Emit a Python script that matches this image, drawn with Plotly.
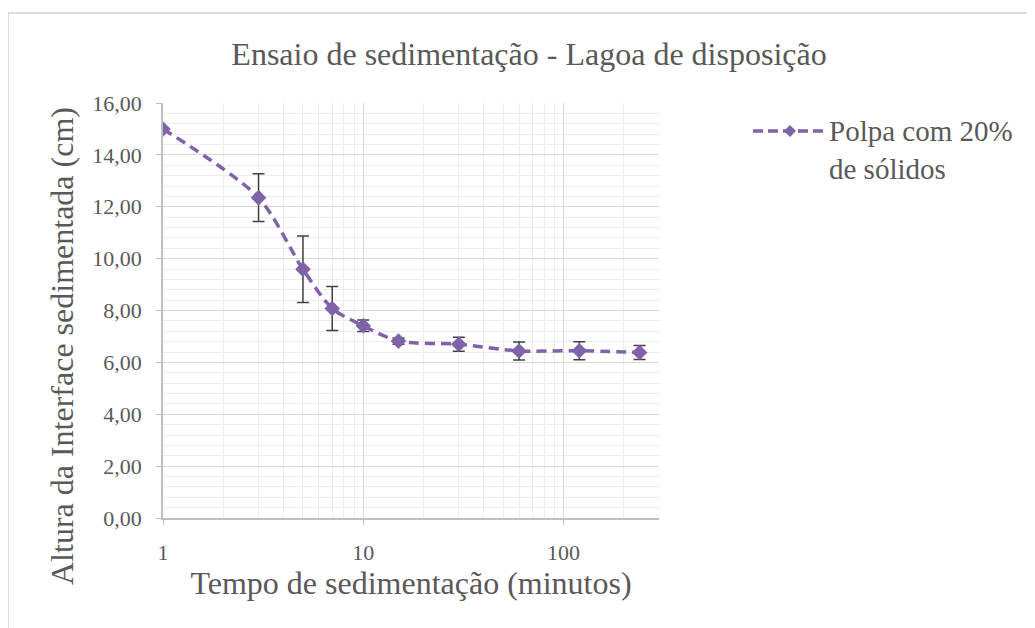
import plotly.graph_objects as go

# Data
tempo_min = [1, 3, 5, 7, 10, 15, 30, 60, 120, 240]
altura_cm = [15.00, 12.35, 9.59, 8.08, 7.41, 6.82, 6.70, 6.44, 6.45, 6.38]
erro_cm = [0.0, 0.92, 1.28, 0.85, 0.22, 0.12, 0.27, 0.35, 0.35, 0.27]
serie_linhas = ["Polpa com 20%", "de sólidos"]
titulo = "Ensaio de sedimentação - Lagoa de disposição"
titulo_x = "Tempo de sedimentação (minutos)"
titulo_y = "Altura da Interface sedimentada (cm)"
x_ticks = [1, 10, 100]
x_tick_labels = ["1", "10", "100"]
x_minor = [m * d for d in (1, 10, 100) for m in range(2, 10) if m * d <= 300]

FONT = "Liberation Serif"
PURPLE = "#7F62A8"
GREY = "#595959"

# plot area in page pixels (page has an 8px body margin)
PL, PR, PT, PB = 163, 659, 103, 518
W, H, OFF = 1035, 628, 8


def px(X):
    return (X - PL) / (PR - PL)


def py(Y):
    return (PB - Y) / (PB - PT)


fig = go.Figure()
fig.add_trace(go.Scatter(
    x=tempo_min, y=altura_cm, name=" ".join(serie_linhas), mode="lines+markers",
    showlegend=False,
    line=dict(color=PURPLE, width=3.5, dash="10px,6px", shape="spline", smoothing=0.8),
    marker=dict(symbol="diamond", size=12, color=PURPLE),
    error_y=dict(type="data", array=erro_cm, visible=True, color="#404040",
                 thickness=1.5, width=6),
))

fig.update_layout(
    width=W, height=H,
    margin=dict(l=PL - OFF, r=W + OFF - PR, t=PT - OFF, b=H + OFF - PB, autoexpand=False),
    paper_bgcolor="white", plot_bgcolor="white",
    separators=",.",
    font=dict(family=FONT, color=GREY),
    title=dict(text=titulo,
               x=(529 - OFF) / W, xref="container", xanchor="center",
               y=1 - (54 - OFF) / H, yref="container", yanchor="middle",
               font=dict(family=FONT, size=32, color=GREY)),
    xaxis=dict(
        type="log", range=[0, 2.4771], tickvals=x_ticks, ticktext=x_tick_labels,
        showgrid=True, gridcolor="#D9D9D9", gridwidth=1,
        showline=True, linecolor="#BFBFBF", linewidth=1.5,
        ticks="outside", ticklen=5, tickcolor="#BFBFBF", ticklabelstandoff=9,
        tickfont=dict(family=FONT, size=22, color=GREY),
        minor=dict(tickvals=x_minor, showgrid=True, gridcolor="#EDEDED", gridwidth=1),
        title=dict(text=titulo_x, standoff=6,
                   font=dict(family=FONT, size=32, color=GREY)),
        zeroline=False,
    ),
    yaxis=dict(
        range=[0, 16], dtick=2, tickformat=".2f",
        showgrid=True, gridcolor="#D9D9D9", gridwidth=1,
        showline=True, linecolor="#BFBFBF", linewidth=1.5,
        ticks="outside", ticklen=5, tickcolor="#BFBFBF", ticklabelstandoff=10,
        tickfont=dict(family=FONT, size=22, color=GREY),
        minor=dict(dtick=0.4, showgrid=True, gridcolor="#EDEDED", gridwidth=1),
        zeroline=False,
    ),
    showlegend=False,
)

# y-axis title (placed like the Excel original, below plot centre)
fig.add_annotation(text=titulo_y, xref="paper", yref="paper", textangle=-90,
                   x=px(62), y=py(346), xanchor="center", yanchor="middle",
                   showarrow=False, font=dict(family=FONT, size=32, color=GREY))

# chart border
fig.add_shape(type="rect", xref="paper", yref="paper",
              x0=px(8), x1=px(1100), y0=py(700), y1=py(13),
              line=dict(color="#D4D4D4", width=1.5), fillcolor="rgba(0,0,0,0)", layer="below")

# manual legend (longer Excel-style sample line)
ly = 131
fig.add_shape(type="line", xref="paper", yref="paper",
              x0=px(753), x1=px(825), y0=py(ly), y1=py(ly),
              line=dict(color=PURPLE, width=3.5, dash="10px,5px"))
fig.add_shape(type="path", xref="paper", yref="paper",
              xsizemode="pixel", ysizemode="pixel", xanchor=px(790), yanchor=py(ly),
              path="M -6 0 L 0 6 L 6 0 L 0 -6 Z",
              fillcolor=PURPLE, line=dict(color=PURPLE, width=0))
fig.add_annotation(text="<br>".join(serie_linhas), xref="paper", yref="paper",
                   x=px(827), y=py(150), xanchor="left", yanchor="middle", align="left",
                   showarrow=False, font=dict(family=FONT, size=29, color=GREY))

fig.write_html("out.html")
